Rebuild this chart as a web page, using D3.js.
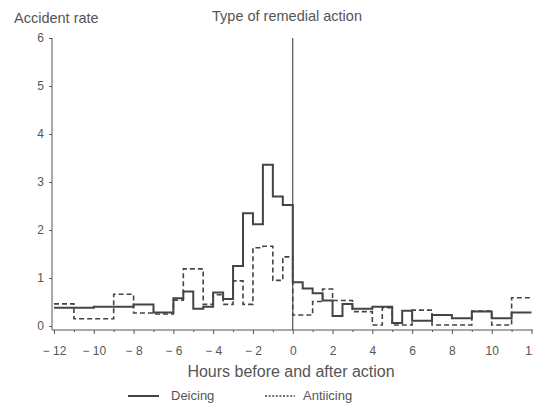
<!DOCTYPE html>
<html>
<head>
<meta charset="utf-8">
<script src="https://cdn.jsdelivr.net/npm/d3@7"></script>
<style>
  html, body { margin: 0; padding: 0; background: #fff; }
  svg { display: block; }
  text { font-family: "Liberation Sans", Arial, sans-serif; fill: #555; }
</style>
</head>
<body>
<svg id="chart" width="533" height="403"></svg>
<script>
// Accident rate per half-hour / hour bin, by hours relative to the remedial action.
// Each series: bin start hours and the rate for that bin (bins end at the next start, last one at 12).
const deicingStart = [-12,-10,-8,-7,-6,-5.5,-5,-4.5,-4,-3.5,-3,-2.5,-2,-1.5,-1,-0.5,0,0.5,1,1.5,2,2.5,3,4,5,5.5,6,7,8,9,10,11];
const deicingRate  = [0.38,0.40,0.45,0.28,0.58,0.72,0.36,0.40,0.70,0.56,1.25,2.35,2.12,3.36,2.70,2.52,0.91,0.78,0.68,0.53,0.21,0.46,0.36,0.40,0.06,0.32,0.11,0.23,0.16,0.30,0.16,0.28];

const antiicingStart = [-12,-11,-9,-8,-7,-6,-5.5,-4.5,-4,-3.5,-3,-2.5,-2,-1.5,-1,-0.5,0,1,1.5,2,3,4,4.5,5,6,7,9,10,11];
const antiicingRate  = [0.46,0.15,0.66,0.27,0.25,0.54,1.19,0.45,0.65,0.45,0.94,0.45,1.63,1.66,0.95,1.44,0.23,0.51,0.77,0.53,0.30,0.02,0.38,0.02,0.33,0.02,0.31,0.02,0.59];

const xTicks = [-12,-10,-8,-6,-4,-2,0,2,4,6,8,10,12];
const yTicks = [0,1,2,3,4,5,6];
const hourEnd = 12;

const svg = d3.select("#chart");
const x = d3.scaleLinear().domain([-12, 12]).range([54, 531.5]);
const y = d3.scaleLinear().domain([0, 6]).range([326, 38]);
const axisY = 330;
const axisX = 52;
const ink = "#555";
const lineInk = "#444";

// y axis
const gy = svg.append("g").attr("transform", `translate(${axisX},0)`)
  .call(d3.axisLeft(y).tickValues(yTicks).tickSize(3).tickPadding(5).tickFormat(d3.format("d")));
gy.select(".domain").remove();
gy.selectAll(".tick line").attr("stroke", ink);
gy.selectAll(".tick text").attr("font-size", 12).style("fill", "#555");
svg.append("line").attr("x1", axisX).attr("x2", axisX).attr("y1", y(6)).attr("y2", axisY)
  .attr("stroke", ink).attr("stroke-width", 1);

// x axis with minor ticks at odd hours
const minor = d3.range(-11, 12, 2);
const gxm = svg.append("g").attr("transform", `translate(0,${axisY})`)
  .call(d3.axisBottom(x).tickValues(minor).tickSize(2).tickFormat(""));
gxm.select(".domain").remove();
gxm.selectAll(".tick line").attr("stroke", ink);

const fmtMinus = d => d < 0 ? "\u2212 " + Math.abs(d) : String(d);
const gx = svg.append("g").attr("transform", `translate(0,${axisY})`)
  .call(d3.axisBottom(x).tickValues(xTicks).tickSize(4).tickPadding(12).tickFormat(fmtMinus));
gx.select(".domain").remove();
gx.selectAll(".tick line").attr("stroke", ink);
gx.selectAll(".tick text").attr("font-size", 12).style("fill", "#555");
svg.append("line").attr("x1", axisX).attr("x2", 533).attr("y1", axisY).attr("y2", axisY)
  .attr("stroke", ink).attr("stroke-width", 1);

// reference line at the time of action
svg.append("line").attr("x1", x(0)).attr("x2", x(0)).attr("y1", y(6)).attr("y2", axisY)
  .attr("stroke", "#333").attr("stroke-width", 1);

// step lines
function stepPoints(starts, rates) {
  const pts = starts.map((s, i) => [s, rates[i]]);
  pts.push([hourEnd, rates[rates.length - 1]]);
  return pts;
}
const line = d3.line().x(d => x(d[0])).y(d => y(d[1])).curve(d3.curveStepAfter);

svg.append("path").datum(stepPoints(antiicingStart, antiicingRate))
  .attr("d", line).attr("fill", "none").attr("stroke", lineInk)
  .attr("stroke-width", 1.6).attr("stroke-dasharray", "5,3");

svg.append("path").datum(stepPoints(deicingStart, deicingRate))
  .attr("d", line).attr("fill", "none").attr("stroke", lineInk)
  .attr("stroke-width", 2);

// titles
svg.append("text").attr("x", 14).attr("y", 23).attr("font-size", 14.5).text("Accident rate");
svg.append("text").attr("x", 287).attr("y", 21).attr("text-anchor", "middle").attr("font-size", 14.5)
  .text("Type of remedial action");
svg.append("text").attr("x", 291).attr("y", 377).attr("text-anchor", "middle").attr("font-size", 16)
  .text("Hours before and after action");

// legend
const ly = 396;
svg.append("line").attr("x1", 128).attr("x2", 159).attr("y1", ly).attr("y2", ly)
  .attr("stroke", lineInk).attr("stroke-width", 2);
svg.append("text").attr("x", 171).attr("y", 400).attr("font-size", 13).text("Deicing");
svg.append("line").attr("x1", 265).attr("x2", 295).attr("y1", ly).attr("y2", ly)
  .attr("stroke", lineInk).attr("stroke-width", 1.6).attr("stroke-dasharray", "2,1.6");
svg.append("text").attr("x", 303).attr("y", 400).attr("font-size", 13).text("Antiicing");
</script>
</body>
</html>
